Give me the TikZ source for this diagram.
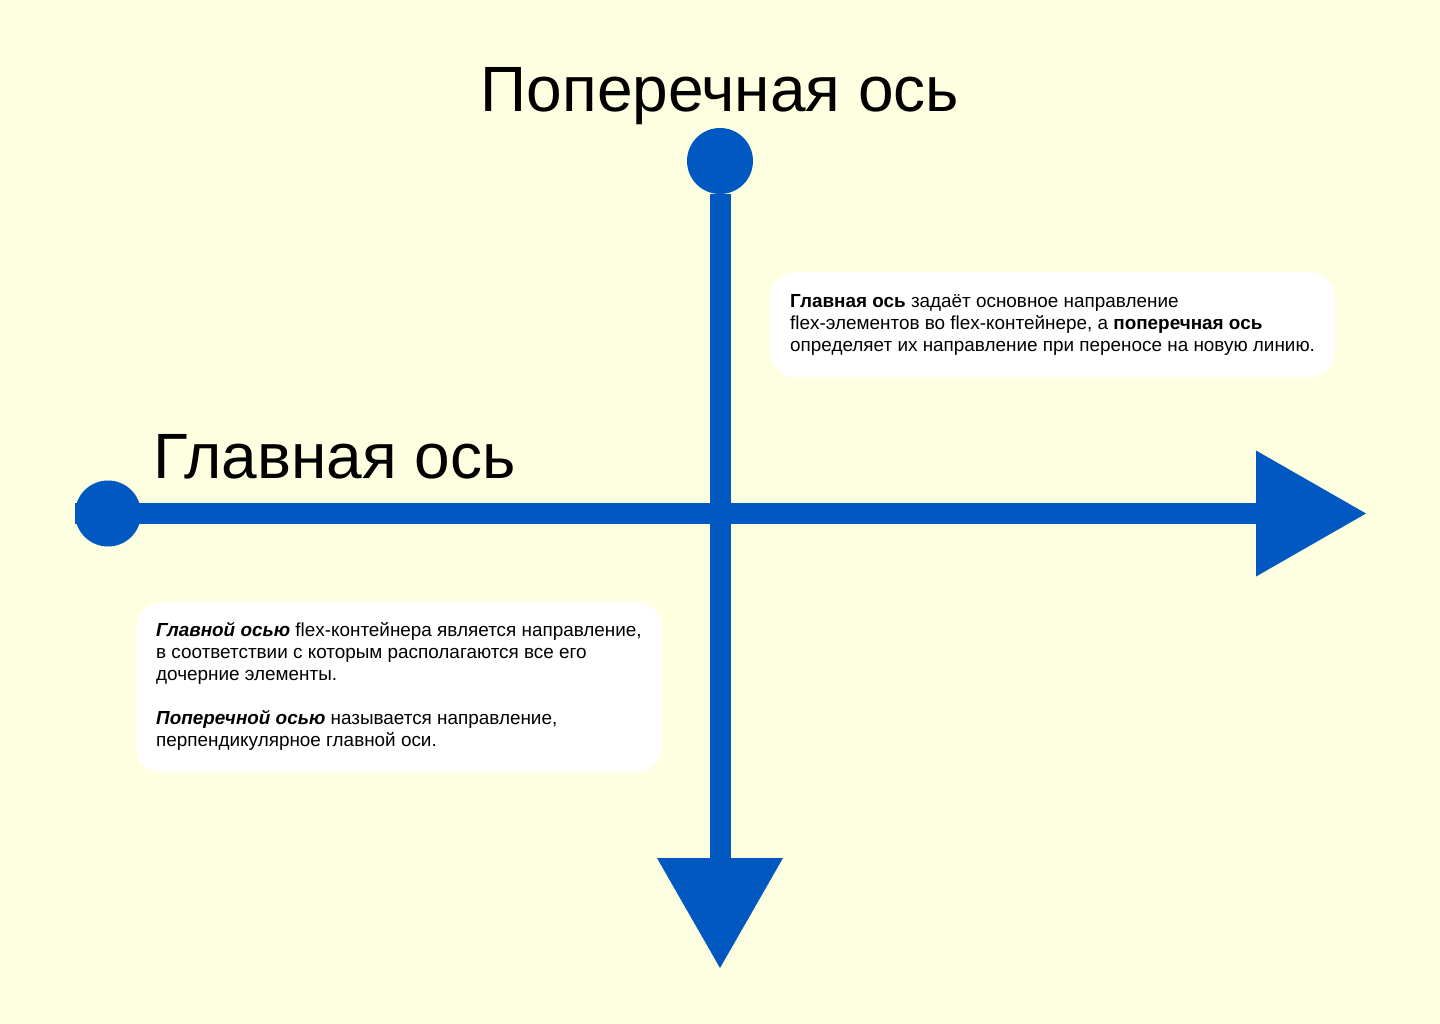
\documentclass[tikz,border=0pt]{standalone}
\usepackage{fontspec}
\setmainfont{Liberation Sans}
\usetikzlibrary{positioning, arrows.meta}
\definecolor{axisblue}{RGB}{0,88,192}
\definecolor{paper}{RGB}{253,255,224}

\begin{document}
\begin{tikzpicture}[x = 1pt, y = -1pt,
    axisline/.style = { draw = axisblue, line width = 21pt,
      -{Triangle[length = 110pt, width = 126pt, line width' = 0pt]} },
    axisdot/.style = { circle, fill = axisblue, minimum size = 66pt, inner sep = 0pt },
    heading/.style = { font = \fontsize{64}{70}\selectfont, inner sep = 0pt, anchor = base },
    card/.style = { fill = white, rounded corners = 25pt, align = left, anchor = north west,
      inner xsep = 20pt, font = \fontsize{18.9}{22}\selectfont }]
  \fill[paper] (0,0) rectangle (1440,1024);
  \useasboundingbox (0,0) rectangle (1440,1024);

  \node[axisdot] (mainstart) at (108,513.5) {};
  \node[axisdot] (crossstart) at (720,161) {};
  \coordinate (mainend) at (1366,513.5);
  \coordinate (crossend) at (720,968);
  \draw[axisline] (mainstart.west) -- (mainend);
  \draw[axisline] (crossstart) -- (crossend);

  \node[heading] (crosstitle) at (720,112) { Поперечная ось };
  \node[heading, anchor = base west] (maintitle) at (153,478) { Главная ось };

  \node[card, minimum height = 105pt] (crosscard) at (770,272)
    { \strut\textbf{Главная ось} задаёт основное направление \\
      flex-элементов во flex-контейнере, а \textbf{поперечная ось} \\
      определяет их направление при переносе на новую линию.\strut };
  \node[card, minimum height = 170pt] (maincard) at (136,602)
    { \strut\textbf{\textit{Главной осью}} flex-контейнера является направление, \\
      в соответствии с которым располагаются все его \\
      дочерние элементы. \\[22pt]
      \textbf{\textit{Поперечной осью}} называется направление, \\
      перпендикулярное главной оси.\strut };
\end{tikzpicture}
\end{document}
